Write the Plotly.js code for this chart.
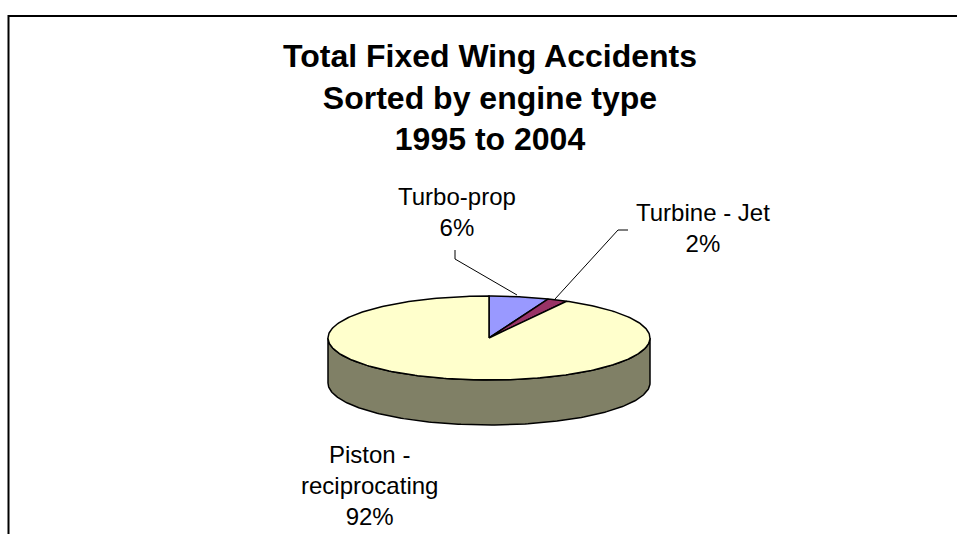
<!DOCTYPE html>
<html>
<head>
<meta charset="utf-8">
<script src="https://cdn.plot.ly/plotly-3.0.1.min.js"></script>
<style>
  html, body { margin: 0; padding: 0; background: #ffffff; }
  #chart { width: 957px; height: 534px; }
</style>
</head>
<body>
<div id="chart"></div>
<script>
// ---------------- DATA ----------------
const categories = ['Turbo-prop', 'Turbine - Jet', 'Piston - reciprocating'];
const values = [6, 2, 92];
const titleLines = ['Total Fixed Wing Accidents', 'Sorted by engine type', '1995 to 2004'];

// ---------------- STYLE / LAYOUT ----------------
const sliceColors = ['#9999FF', '#993366', '#FFFFCC'];
const FONT = 'Liberation Sans, Arial, Helvetica, sans-serif';
const W = 957, H = 534;
// pie geometry in pixel space
const cx = 489, cy = 338, rx = 161, ry = 42, depth = 45;
// label placement (layout, not data)
const labelPos = [
  {x: 457, y: 212},
  {x: 703, y: 228},
  {x: 369, y: 485}
];
const labelWrap = [
  (s) => s,
  (s) => s,
  (s) => s.replace(' - ', ' -<br>')
];
const leaderPaths = [
  'M455,250 L455,259 L517,295',
  'M628,230 L618,230 L555,299'
];

function darken(hex, f) {
  const n = parseInt(hex.slice(1), 16);
  const r = Math.round(((n >> 16) & 255) * f);
  const g = Math.round(((n >> 8) & 255) * f);
  const b = Math.round((n & 255) * f);
  return 'rgb(' + r + ',' + g + ',' + b + ')';
}

function pt(deg, dz) {
  const t = deg * Math.PI / 180;
  return [cx + rx * Math.sin(t), cy - ry * Math.cos(t) + dz];
}

const total = values.reduce((a, b) => a + b, 0);
const starts = [], ends = [];
let acc = 0;
values.forEach(v => {
  starts.push(acc / total * 360);
  acc += v;
  ends.push(acc / total * 360);
});

const traces = [];
// side walls (front half: 90..270 deg clockwise from top)
values.forEach((v, i) => {
  const s = Math.max(starts[i], 90), e = Math.min(ends[i], 270);
  if (s >= e) return;
  const xs = [], ys = [];
  const n = Math.max(2, Math.ceil(e - s));
  for (let k = 0; k <= n; k++) {
    const p = pt(s + (e - s) * k / n, 0);
    xs.push(p[0]); ys.push(p[1]);
  }
  for (let k = n; k >= 0; k--) {
    const p = pt(s + (e - s) * k / n, depth);
    xs.push(p[0]); ys.push(p[1]);
  }
  xs.push(xs[0]); ys.push(ys[0]);
  traces.push({
    type: 'scatter', mode: 'lines', x: xs, y: ys, fill: 'toself',
    fillcolor: darken(sliceColors[i], 0.5),
    line: {color: '#000000', width: 1.5}, hoverinfo: 'skip', showlegend: false
  });
});
// top faces
values.forEach((v, i) => {
  const s = starts[i], e = ends[i];
  const xs = [cx], ys = [cy];
  const n = Math.max(2, Math.ceil(e - s));
  for (let k = 0; k <= n; k++) {
    const p = pt(s + (e - s) * k / n, 0);
    xs.push(p[0]); ys.push(p[1]);
  }
  xs.push(cx); ys.push(cy);
  traces.push({
    type: 'scatter', mode: 'lines', x: xs, y: ys, fill: 'toself',
    fillcolor: sliceColors[i],
    line: {color: '#000000', width: 1.5}, hoverinfo: 'skip', showlegend: false,
    name: categories[i]
  });
});

const annotations = categories.map((c, i) => ({
  x: labelPos[i].x, y: labelPos[i].y, xref: 'x', yref: 'y',
  xanchor: 'center', yanchor: 'middle', showarrow: false,
  text: labelWrap[i](c) + '<br>' + Math.round(values[i] / total * 100) + '%',
  font: {family: FONT, size: 24, color: '#000000'}
}));

const shapes = [
  {type: 'rect', xref: 'x', yref: 'y', x0: 8.5, x1: 1000, y0: 16, y1: 700,
   line: {color: '#000000', width: 2}, fillcolor: 'rgba(0,0,0,0)', layer: 'below'}
].concat(leaderPaths.map(p => ({
  type: 'path', xref: 'x', yref: 'y', path: p, line: {color: '#000000', width: 1}
})));

const layout = {
  width: W, height: H,
  margin: {l: 0, r: 0, t: 0, b: 0},
  paper_bgcolor: '#ffffff', plot_bgcolor: '#ffffff',
  showlegend: false,
  title: {
    text: '<b>' + titleLines.join('<br>') + '</b>',
    font: {family: FONT, size: 32, color: '#000000'},
    x: 490 / W, xanchor: 'center', xref: 'paper',
    y: 1 - 67 / H, yanchor: 'top', yref: 'paper'
  },
  xaxis: {range: [0, W], visible: false, fixedrange: true},
  yaxis: {range: [H, 0], visible: false, fixedrange: true},
  annotations: annotations,
  shapes: shapes
};

Plotly.newPlot('chart', traces, layout, {staticPlot: true, displayModeBar: false});
</script>
</body>
</html>
